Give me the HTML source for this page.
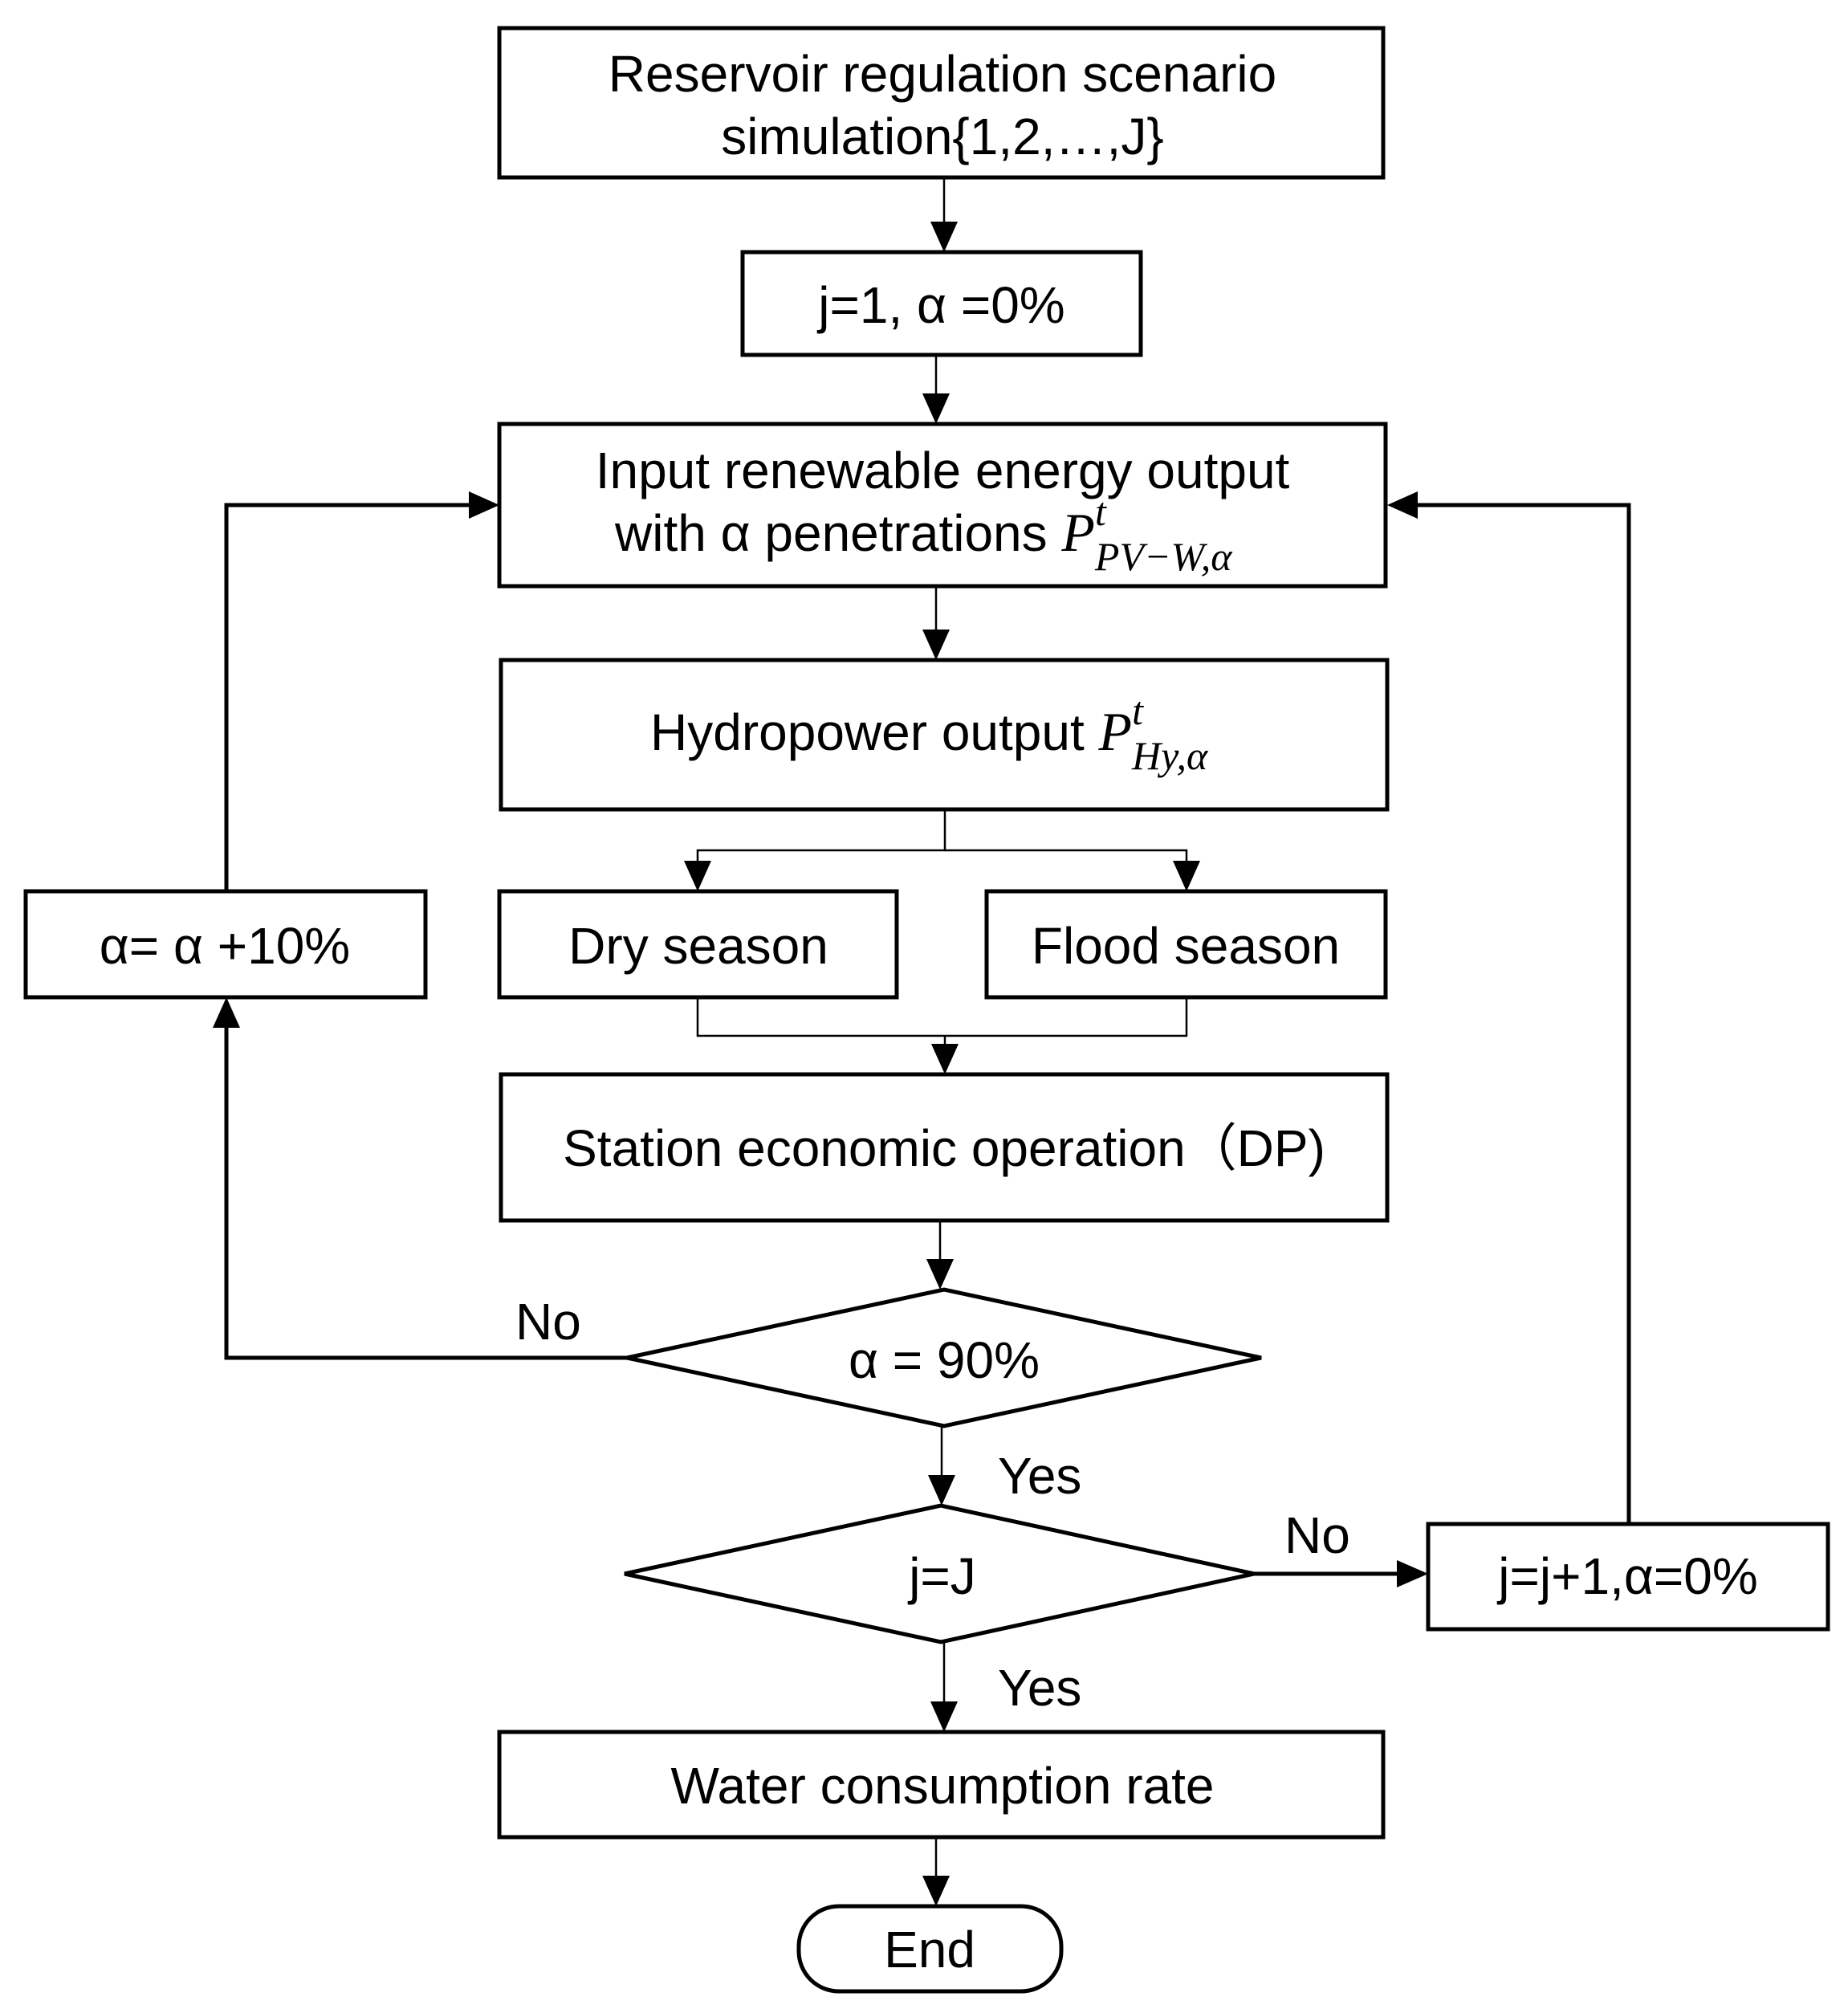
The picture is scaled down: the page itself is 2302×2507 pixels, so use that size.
<!DOCTYPE html>
<html><head><meta charset="utf-8"><style>
html,body{margin:0;padding:0;background:#fff}
svg{display:block}
text{font-family:"Liberation Sans",Arial,sans-serif;font-size:64px;fill:#000}
.m{font-family:"Liberation Serif",serif;font-style:italic}
</style></head><body>
<svg width="2302" height="2507" viewBox="0 0 2302 2507" xmlns="http://www.w3.org/2000/svg">
<g fill="none" stroke="#000" stroke-width="5">
<rect x="622" y="35" width="1101" height="186"/>
<rect x="925" y="314" width="496" height="128"/>
<rect x="622" y="528" width="1104" height="202"/>
<rect x="624" y="822" width="1104" height="186"/>
<rect x="622" y="1110" width="495" height="132"/>
<rect x="1229" y="1110" width="497" height="132"/>
<rect x="624" y="1338" width="1104" height="182"/>
<polygon points="781,1691 1176,1606 1571,1691 1176,1776"/>
<polygon points="778,1960 1172,1875 1562,1960 1172,2045"/>
<rect x="32" y="1110" width="498" height="132"/>
<rect x="1779" y="1898" width="498" height="131"/>
<rect x="622" y="2157" width="1101" height="131"/>
<rect x="995" y="2374" width="327" height="106" rx="50"/>
<polyline points="781,1691 282,1691 282,1280"/>
<polyline points="282,1110 282,629 585,629"/>
<polyline points="1562,1960 1740,1960"/>
<polyline points="2029,1898 2029,629 1766,629"/>
</g>
<g fill="none" stroke="#000" stroke-width="2.5">
<line x1="1176" y1="221" x2="1176" y2="280"/>
<line x1="1166" y1="442" x2="1166" y2="490"/>
<line x1="1166" y1="730" x2="1166" y2="785"/>
<polyline points="1177,1008 1177,1059 869,1059 869,1080"/>
<polyline points="1177,1059 1478,1059 1478,1080"/>
<polyline points="869,1242 869,1290 1478,1290 1478,1242"/>
<line x1="1177" y1="1290" x2="1177" y2="1305"/>
<line x1="1171" y1="1520" x2="1171" y2="1572"/>
<line x1="1173" y1="1776" x2="1173" y2="1840"/>
<line x1="1176" y1="2045" x2="1176" y2="2120"/>
<line x1="1166" y1="2288" x2="1166" y2="2340"/>
</g>
<g fill="#000">
<polygon points="1159,276 1193,276 1176,314"/>
<polygon points="1149,490 1183,490 1166,528"/>
<polygon points="1149,784 1183,784 1166,822"/>
<polygon points="852,1072 886,1072 869,1110"/>
<polygon points="1461,1072 1495,1072 1478,1110"/>
<polygon points="1160,1300 1194,1300 1177,1338"/>
<polygon points="1154,1568 1188,1568 1171,1606"/>
<polygon points="1156,1837 1190,1837 1173,1875"/>
<polygon points="1159,2119 1193,2119 1176,2157"/>
<polygon points="1149,2336 1183,2336 1166,2374"/>
<polygon points="265,1280 299,1280 282,1242"/>
<polygon points="584,612 584,646 622,629"/>
<polygon points="1740,1943 1740,1977 1779,1960"/>
<polygon points="1766,612 1766,646 1728,629"/>
</g>
<g text-anchor="middle">
<text x="1174" y="114">Reservoir regulation scenario</text>
<text x="1174" y="192">simulation{1,2,…,J}</text>
<text x="1173" y="402">j=1, α =0%</text>
<text x="1158" y="2450">End</text>
<text x="870" y="1200">Dry season</text>
<text x="1477" y="1200">Flood season</text>
<text x="1176" y="1452">Station economic operation（DP)</text>
<text x="1176" y="1716">α = 90%</text>
<text x="1174" y="1985">j=J</text>
<text x="280" y="1200">α= α +10%</text>
<text x="2028" y="1985">j=j+1,α=0%</text>
<text x="1174" y="2246">Water consumption rate</text>
</g>
<text x="1174" y="608" text-anchor="middle">Input renewable energy output</text>
<text x="766" y="686">with α penetrations <tspan class="m" font-size="68">P</tspan><tspan class="m" font-size="50" dy="-32">t</tspan><tspan class="m" font-size="50" dx="-14" dy="56">PV−W,α</tspan></text>
<text x="810" y="934">Hydropower output <tspan class="m" font-size="68">P</tspan><tspan class="m" font-size="50" dy="-32">t</tspan><tspan class="m" font-size="50" dx="-14" dy="56">Hy,α</tspan></text>
<text x="642" y="1668">No</text>
<text x="1243" y="1860">Yes</text>
<text x="1600" y="1934">No</text>
<text x="1243" y="2124">Yes</text>
</svg>
</body></html>
